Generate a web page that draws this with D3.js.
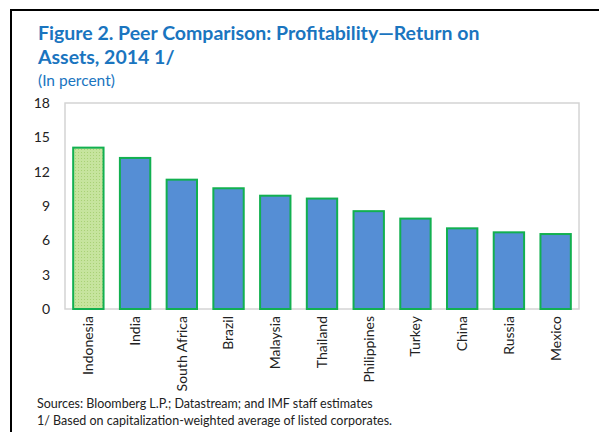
<!DOCTYPE html>
<html>
<head>
<meta charset="utf-8">
<script src="https://cdn.jsdelivr.net/npm/d3@7"></script>
<style>
  body { margin: 0; background: #fff; }
  svg { display: block; font-family: Lato, "Open Sans", sans-serif; }
</style>
</head>
<body>
<div id="chart"></div>
<script>
// data
const countries = ["Indonesia", "India", "South Africa", "Brazil", "Malaysia", "Thailand",
  "Philippines", "Turkey", "China", "Russia", "Mexico"];
const roa = [14.1, 13.2, 11.3, 10.55, 9.9, 9.65, 8.55, 7.9, 7.05, 6.7, 6.55];
const yTicks = [0, 3, 6, 9, 12, 15, 18];
const highlight = "Indonesia";

const W = 599, H = 432;
const margin = { top: 103, right: 20, bottom: 123, left: 65 };
const width = 579 - margin.left, height = 309 - margin.top;

const svg = d3.select("#chart").append("svg").attr("width", W).attr("height", H);

// dotted fill for highlighted bar
const pat = svg.append("defs").append("pattern")
  .attr("id", "dots").attr("width", 3).attr("height", 3).attr("patternUnits", "userSpaceOnUse");
pat.append("rect").attr("width", 3).attr("height", 3).attr("fill", "#c6e49e");
pat.append("rect").attr("x", 1).attr("y", 1).attr("width", 1).attr("height", 1).attr("fill", "#a9d176");

// outer frame (top + left)
svg.append("line").attr("x1", 11).attr("x2", W).attr("y1", 10).attr("y2", 10)
  .attr("stroke", "#000").attr("stroke-width", 2);
svg.append("line").attr("x1", 11).attr("x2", 11).attr("y1", 9).attr("y2", H)
  .attr("stroke", "#000").attr("stroke-width", 2);

// titles
const blue = "#1a75bf";
svg.append("text").attr("x", 38).attr("y", 40).attr("fill", blue)
  .attr("font-size", 19.5).attr("font-weight", "bold")
  .text("Figure 2. Peer Comparison: Profitability\u2014Return on");
svg.append("text").attr("x", 38).attr("y", 64).attr("fill", blue)
  .attr("font-size", 19.5).attr("font-weight", "bold")
  .text("Assets, 2014 1/");
svg.append("text").attr("x", 38).attr("y", 86).attr("fill", blue)
  .attr("font-size", 15.5)
  .text("(In percent)");

const g = svg.append("g").attr("transform", `translate(${margin.left},${margin.top})`);

const x = d3.scaleBand().domain(countries).range([0, width]).paddingInner(0.35).paddingOuter(0.175);
const y = d3.scaleLinear().domain([0, 18]).range([height, 0]);

// plot frame
g.append("rect").attr("width", width).attr("height", height)
  .attr("fill", "none").attr("stroke", "#d4d4d4").attr("stroke-width", 1.5);

// y axis labels
const yAxis = g.append("g").call(d3.axisLeft(y).tickValues(yTicks).tickSize(0).tickPadding(15));
yAxis.select(".domain").remove();
yAxis.selectAll("text").attr("font-family", "Lato, sans-serif").attr("font-size", 14).attr("fill", "#222");

// bars
g.selectAll(".bar").data(countries).enter().append("rect")
  .attr("x", d => x(d))
  .attr("y", (d, i) => y(roa[i]))
  .attr("width", x.bandwidth())
  .attr("height", (d, i) => y(0) - y(roa[i]))
  .attr("fill", d => d === highlight ? "url(#dots)" : "#558ed5")
  .attr("stroke", "#12b050").attr("stroke-width", 2);

// x axis labels
const xAxis = g.append("g").attr("transform", `translate(0,${height})`)
  .call(d3.axisBottom(x).tickSize(0).tickPadding(0));
xAxis.select(".domain").remove();
xAxis.selectAll("text")
  .attr("font-family", "Lato, sans-serif").attr("font-size", 14).attr("fill", "#222")
  .attr("transform", "rotate(-90)")
  .attr("x", -7).attr("y", 0).attr("dy", "0.35em")
  .style("text-anchor", "end");

// notes
svg.append("text").attr("x", 37).attr("y", 408).attr("font-size", 12.5).attr("fill", "#222")
  .text("Sources: Bloomberg L.P.; Datastream; and IMF staff estimates");
svg.append("text").attr("x", 37).attr("y", 425).attr("font-size", 12.5).attr("fill", "#222")
  .text("1/ Based on capitalization-weighted average of listed corporates.");
</script>
</body>
</html>
